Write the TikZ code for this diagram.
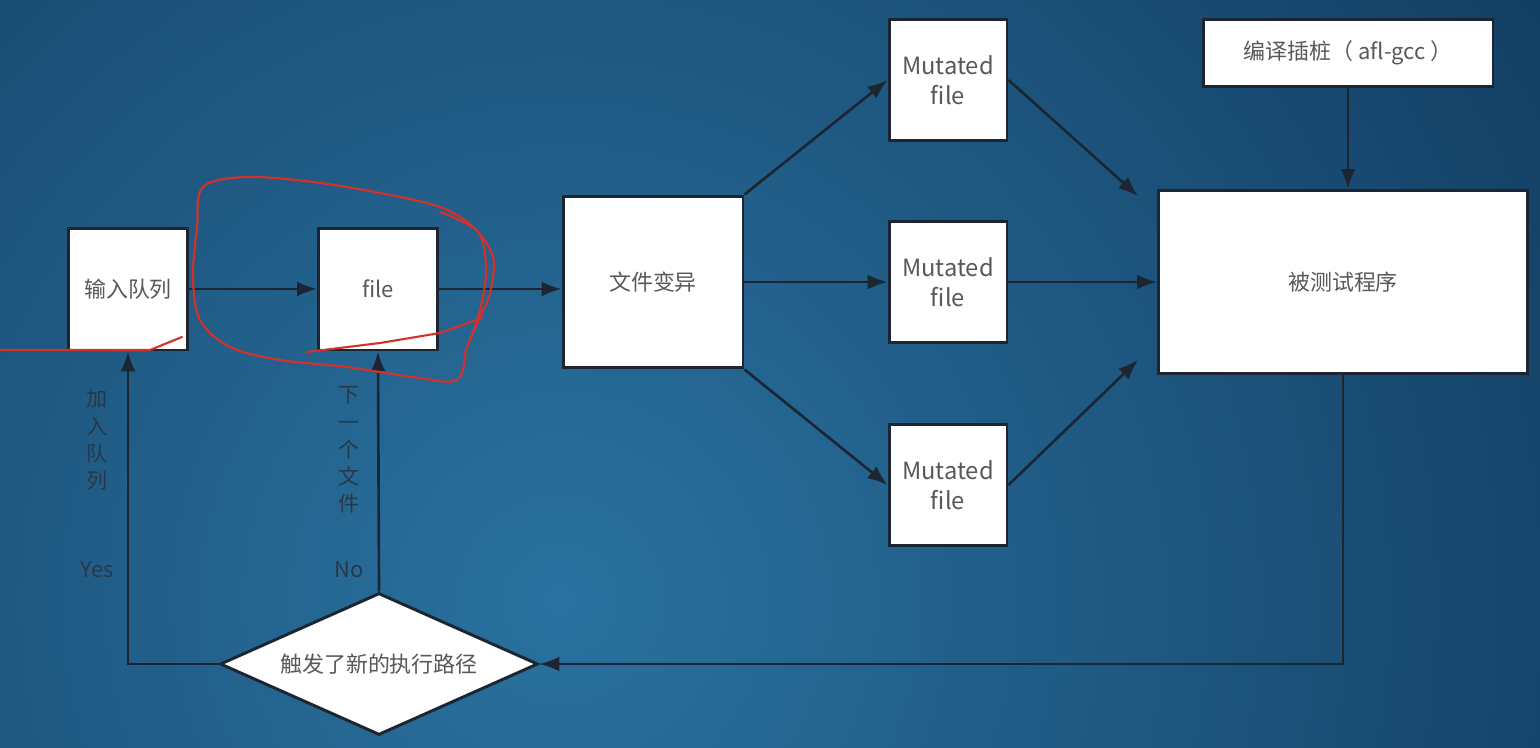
\documentclass[tikz,border=0pt]{standalone}
\usepackage{fontspec}
\setmainfont{Noto Sans CJK SC}
\usepackage{xcolor}
\usetikzlibrary{arrows.meta,positioning,shapes.geometric}
\definecolor{bgin}{RGB}{42,114,160}
\definecolor{bgout}{RGB}{12,46,80}
\definecolor{ink}{RGB}{28,38,50}
\definecolor{txt}{RGB}{88,88,88}
\definecolor{dimtxt}{RGB}{40,56,72}
\definecolor{pen}{RGB}{214,48,42}

\begin{document}
\begin{tikzpicture}[
  x=0.02cm, y=-0.02cm,
  font=\fontsize{12.5}{15}\selectfont, text=txt,
  box/.style={draw=ink, line width=1.7pt, fill=white, align=center, inner sep=2pt},
  small/.style={box, minimum width=2.38cm, minimum height=2.44cm},
  mfile/.style={box, minimum width=2.36cm, minimum height=2.42cm,
                font=\fontsize{13.5}{15}\selectfont},
  decide/.style={diamond, draw=ink, line width=1.7pt, fill=white, aspect=2.3,
                 inner sep=0pt, minimum width=6.36cm, minimum height=2.84cm},
  vlabel/.style={align=center, text=dimtxt, font=\fontsize{12}{15.5}\selectfont},
  side/.style={text=dimtxt},
  flow/.style={-{Latex[length=4mm,width=3mm]}, draw=ink, line width=1.5pt},
  scribble/.style={draw=pen, line width=1.2pt, line cap=round, line join=round}
]
\useasboundingbox (0,0) rectangle (1540,747);
\begin{scope}
  \clip (0,0) rectangle (1540,747);
  \shade[inner color=bgin, outer color=bgout] (560,600) circle (30cm);
\end{scope}

\node[small] (queue) at (128,289) {输入队列};
\node[small] (file) at (378,289) {file};
\node[box, minimum width=3.6cm, minimum height=3.44cm] (mutate) at (653,282) {文件变异};
\node[mfile] (mut1) at (948,80) {Mutated\\[2pt]file};
\node[mfile] (mut2) at (948,282) {Mutated\\[2pt]file};
\node[mfile] (mut3) at (948,485) {Mutated\\[2pt]file};
\node[box, minimum width=5.8cm, minimum height=1.34cm] (gcc) at (1348,53) {编译插桩（ afl-gcc ）};
\node[box, minimum width=7.38cm, minimum height=3.66cm] (prog) at (1343,282) {被测试程序};
\node[decide] (newpath) at (379,664) {触发了新的执行路径};

\draw[flow] (queue) -- (file);
\draw[flow] (file.east) -- (file.east -| mutate.west);
\draw[flow] (mutate.north east) -- (mut1.west);
\draw[flow] (mutate) -- (mut2);
\draw[flow] (mutate.south east) -- (mut3.west);
\draw[flow] (mut1.east) -- ([xshift=-0.38cm,yshift=-0.14cm]prog.north west);
\draw[flow] (mut2) -- (prog);
\draw[flow] (mut3.east) -- ([xshift=-0.38cm,yshift=0.3cm]prog.south west);
\draw[flow] (gcc.south) -- (gcc.south |- prog.north);
\draw[flow] (prog.south) |- (newpath.east);
\draw[flow] (newpath.west) -| (queue.south);
\draw[flow] (newpath.north) -- (file.south);

\node[vlabel] (joinq) at (97,440) {加\\入\\队\\列};
\node[side] (yes) at (97,570) {Yes};
\node[vlabel] (nextf) at (349,450) {下\\一\\个\\文\\件};
\node[side] (no) at (349,570) {No};

% pen marks over the slide
\draw[scribble] plot[smooth cycle, tension=0.55] coordinates {
  (203,187) (247,177) (313,182) (380,193) (440,207) (473,227) (493,257)
  (490,293) (480,317) (467,347) (457,380) (413,377) (347,367) (280,360)
  (230,347) (200,320) (193,277) (197,227)};
\draw[scribble] plot[smooth, tension=0.55] coordinates {
  (440,212) (478,232) (486,270) (480,310) (470,340)};
\draw[scribble] (307,352) -- (380,343) -- (440,333) -- (482,318);
\draw[scribble] (0,350) -- (150,350) -- (182,337);
\end{tikzpicture}
\end{document}
